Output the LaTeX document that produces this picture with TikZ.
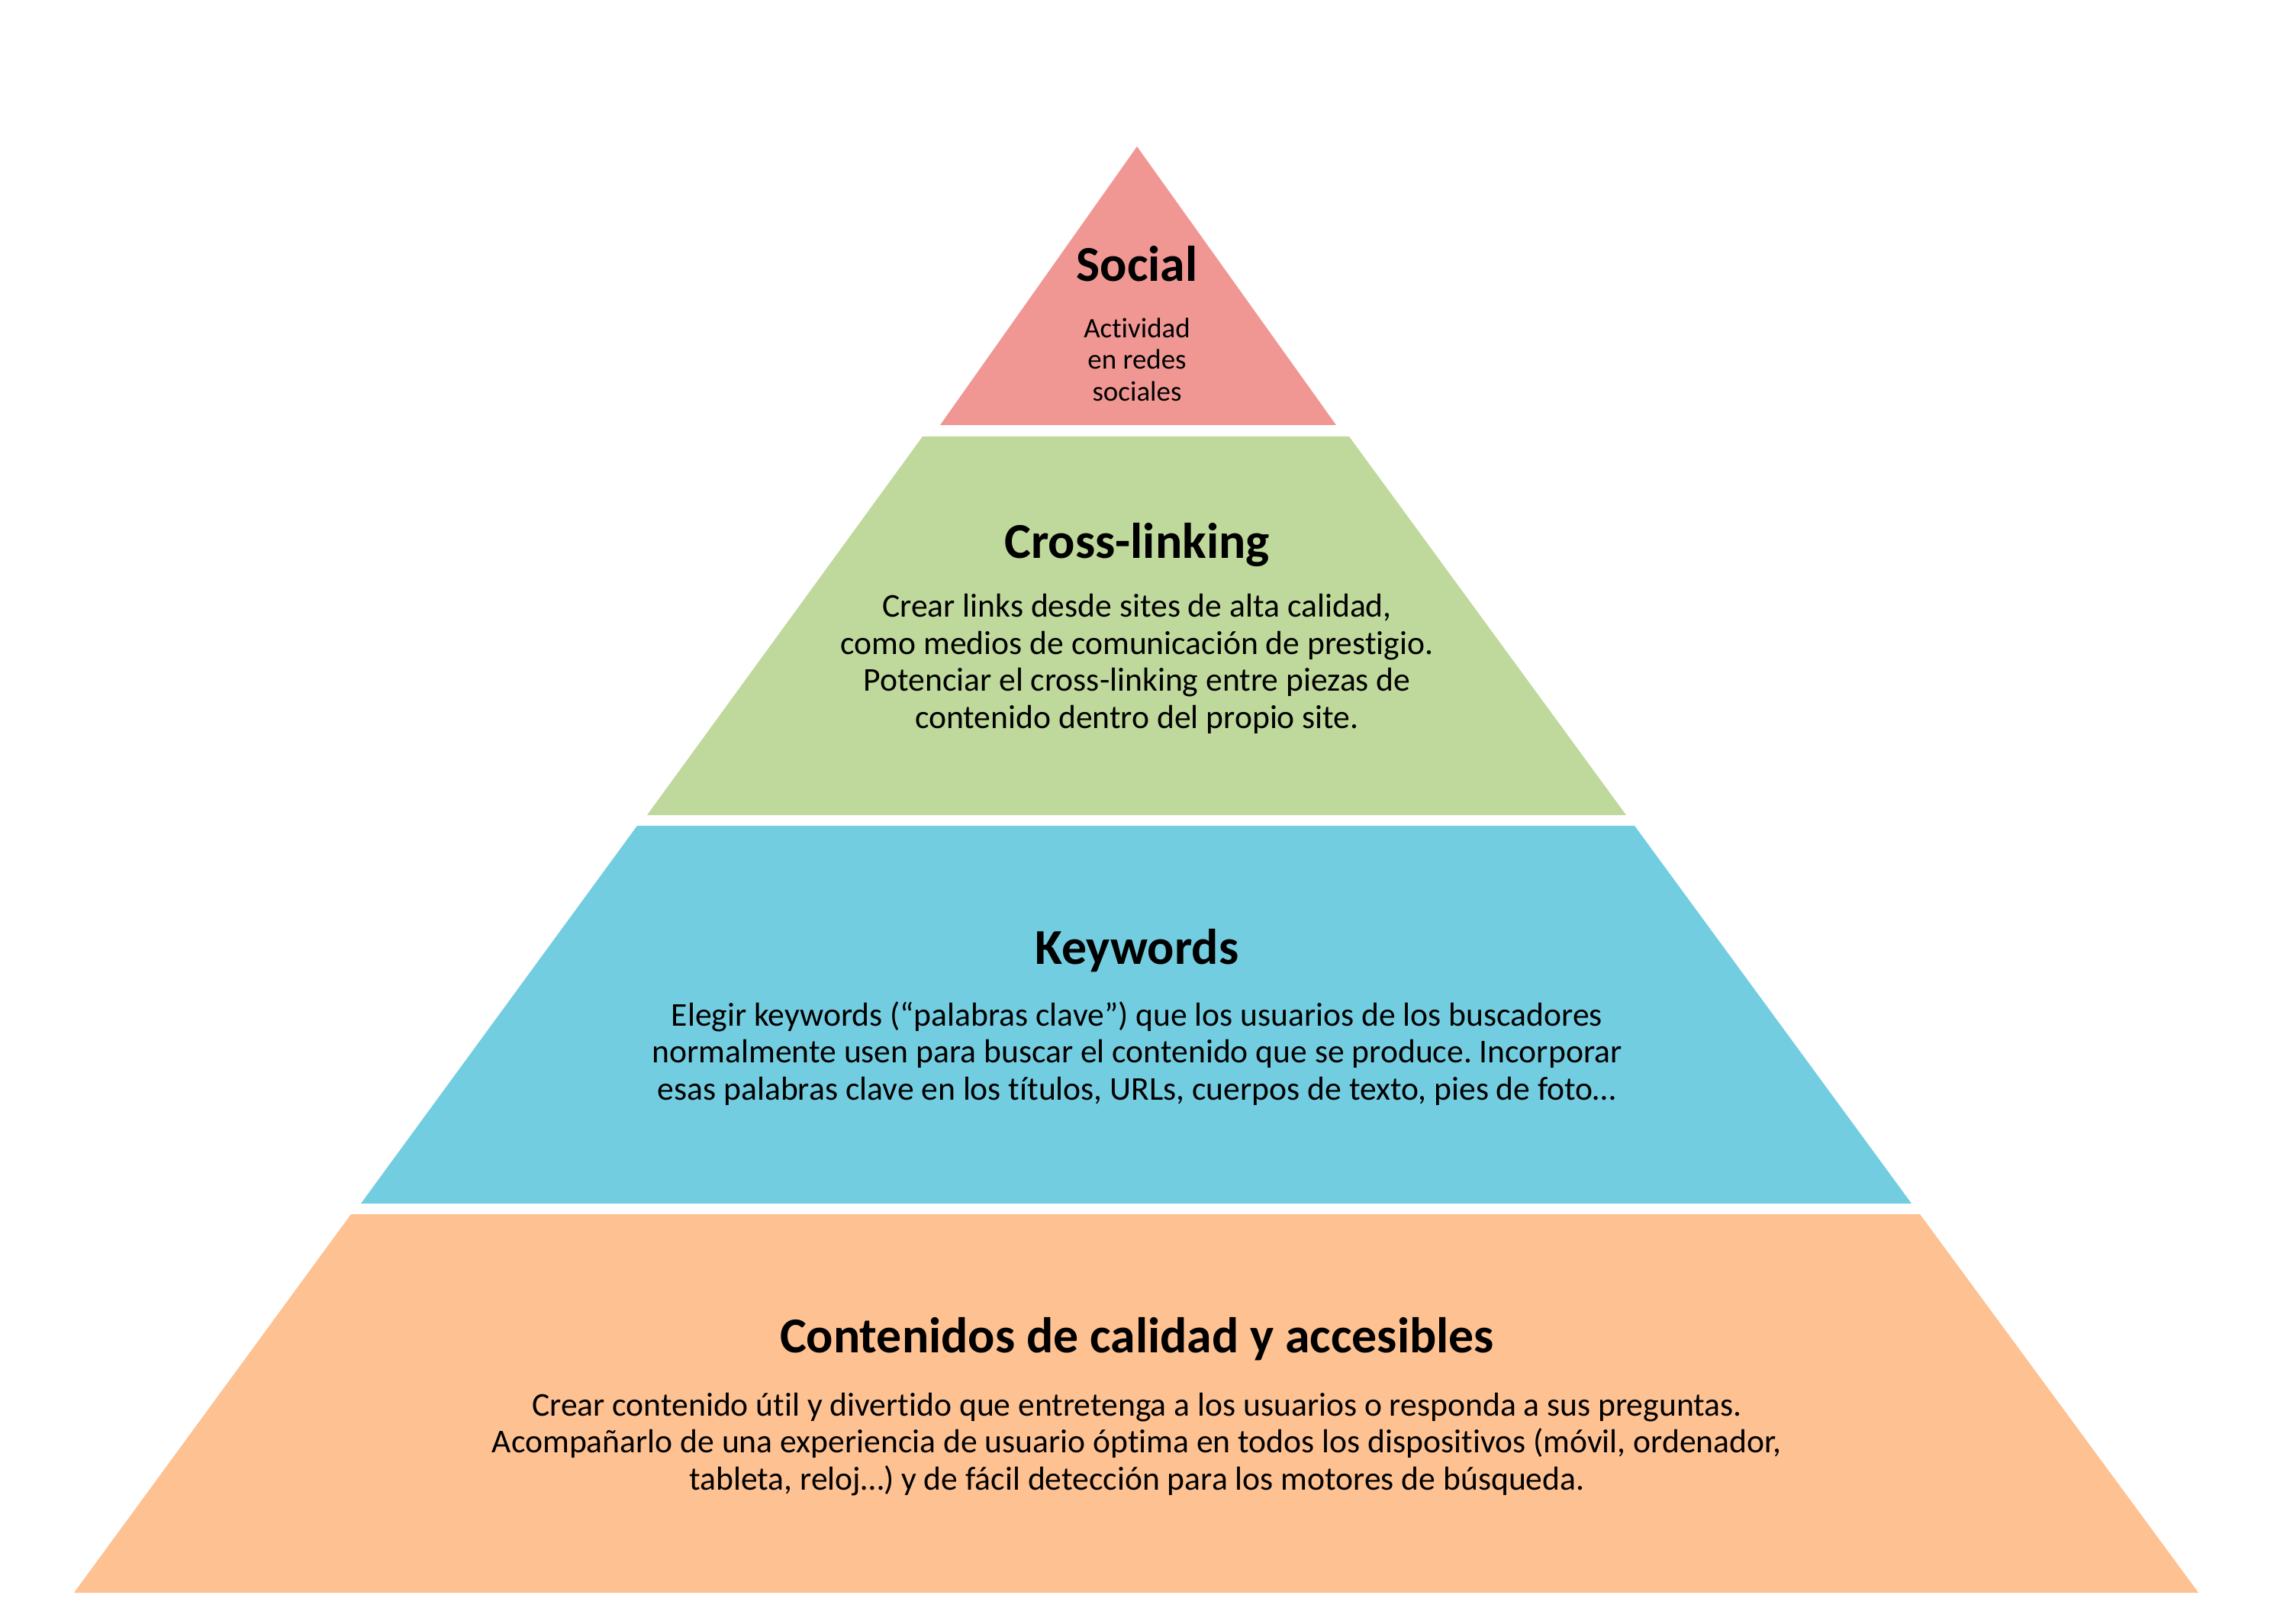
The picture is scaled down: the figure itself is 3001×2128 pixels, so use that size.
\documentclass[tikz,border=0pt]{standalone}
\usepackage{fontspec}
\setmainfont{Carlito}[Ligatures=NoCommon]
\frenchspacing
\definecolor{tierpink}{RGB}{240,151,148}
\definecolor{tiergreen}{RGB}{191,216,155}
\definecolor{tierblue}{RGB}{115,205,224}
\definecolor{tierorange}{RGB}{254,193,146}
\begin{document}
\begin{tikzpicture}[x=0.01cm,y=-0.01cm,
  title/.style={anchor=base,inner sep=0pt,font=\bfseries\fontsize{18.7}{22}\selectfont},
  body/.style={anchor=base,inner sep=0pt,align=center,font=\fontsize{12.4}{13.75}\selectfont},
  smallbody/.style={anchor=base,inner sep=0pt,align=center,font=\fontsize{10.5}{11.8}\selectfont}]
\useasboundingbox (0,0) rectangle (3001,2128);
\fill[white] (0,0) rectangle (3001,2128);
% tiers
\fill[tierpink]   (1490,192) -- (1751,557) -- (1232,557) -- cycle;
\fill[tiergreen]  (1209,572) -- (1768,572) -- (2131,1068) -- (848,1068) -- cycle;
\fill[tierblue]   (835,1082) -- (2142,1082) -- (2505,1577) -- (473,1577) -- cycle;
\fill[tierorange] (460,1591) -- (2516,1591) -- (2881,2087) -- (97,2087) -- cycle;
% texts (multi-line nodes: base anchor = baseline of the last line)
\node[title] (t1) at (1490,369) {Social};
\node[smallbody] (b1) at (1490,525) {Actividad\\en redes\\sociales};
\node[title] (t2) at (1490,731) {Cross-linking};
\node[body] (b2) at (1490,954) {Crear links desde sites de alta calidad,\\como medios de comunicación de prestigio.\\Potenciar el cross-linking entre piezas de\\contenido dentro del propio site.};
\node[title] (t3) at (1490,1263) {Keywords};
\node[body] (b3) at (1490,1441) {Elegir keywords (“palabras clave”) que los usuarios de los buscadores\\normalmente usen para buscar el contenido que se produce. Incorporar\\esas palabras clave en los títulos, URLs, cuerpos de texto, pies de foto…};
\node[title] (t4) at (1490,1772) {Contenidos de calidad y accesibles};
\node[body] (b4) at (1490,1952) {Crear contenido útil y divertido que entretenga a los usuarios o responda a sus preguntas.\\Acompañarlo de una experiencia de usuario óptima en todos los dispositivos (móvil, ordenador,\\tableta, reloj…) y de fácil detección para los motores de búsqueda.};
\end{tikzpicture}
\end{document}
